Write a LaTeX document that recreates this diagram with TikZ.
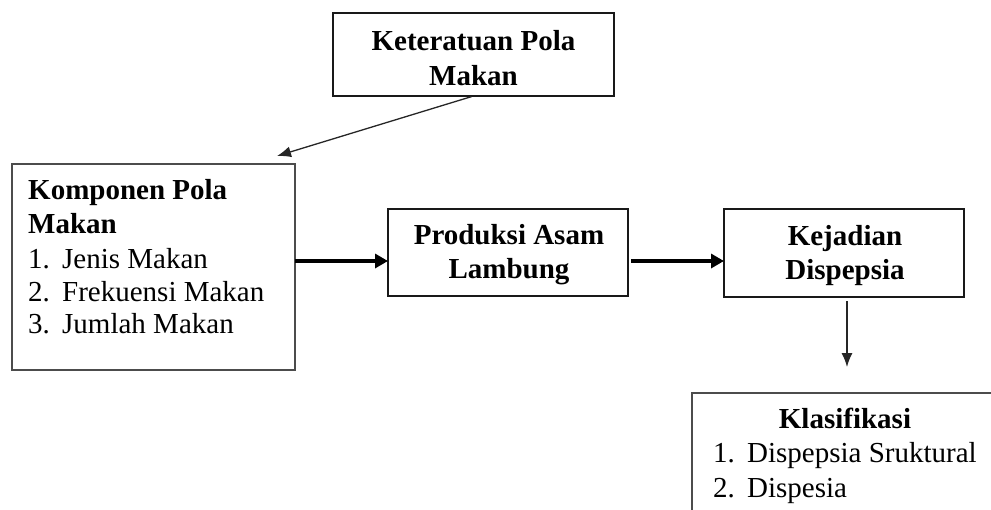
\documentclass[tikz,border=0pt]{standalone}
\usepackage{fontspec}
\setmainfont{Liberation Serif}
\usetikzlibrary{arrows.meta,calc}
\tikzset{
  boxthick/.style={draw=black!90, line width=2.2pt, rectangle, inner sep=0pt, outer sep=0pt},
  boxthin/.style={draw=black!70, line width=1.4pt, rectangle, inner sep=0pt, outer sep=0pt},
  head/.style={font=\fontsize{29}{34}\selectfont\bfseries, inner sep=0pt, anchor=base},
  item/.style={font=\fontsize{29}{34}\selectfont, inner sep=0pt, anchor=base west},
  thinarrow/.style={draw=black!85, line width=1.3pt, -{Latex[length=14pt,width=11pt]}},
  thickarrow/.style={draw=black, line width=3.6pt, -{Triangle[length=13pt,width=14pt]}},
}
\newcommand{\numitem}[2]{\makebox[34pt][l]{#1}#2}
\begin{document}
\begin{tikzpicture}[x=1pt,y=-1pt]
\useasboundingbox (0,0) rectangle (991,509);
\clip (0,0) rectangle (991,509);
% boxes
\node[boxthick, minimum width=281pt, minimum height=83pt] (ket) at (473.5,54.5) {};
\node[boxthin, minimum width=283pt, minimum height=206pt] (komp) at (153.5,267) {};
\node[boxthick, minimum width=240pt, minimum height=87pt] (prod) at (508,252.5) {};
\node[boxthick, minimum width=240pt, minimum height=88pt] (kej) at (844,253) {};
\node[boxthin, minimum width=310pt, minimum height=140pt] (klas) at (847,463) {};
% texts
\node[head] (ket1) at (473.5,50) {Keteratuan Pola};
\node[head] (ket2) at (473.5,85) {Makan};
\node[head, anchor=base west] (komp1) at (28,199) {Komponen Pola};
\node[head, anchor=base west] (komp2) at (28,233) {Makan};
\node[item] (komp3) at (28,268) {\numitem{1.}{Jenis Makan}};
\node[item] (komp4) at (28,301) {\numitem{2.}{Frekuensi Makan}};
\node[item] (komp5) at (28,333) {\numitem{3.}{Jumlah Makan}};
\node[head] (prod1) at (509,244) {Produksi Asam};
\node[head] (prod2) at (509,278) {Lambung};
\node[head] (kej1) at (845,245) {Kejadian};
\node[head] (kej2) at (845,279) {Dispepsia};
\node[head] (klas1) at (845,428) {Klasifikasi};
\node[item] (klas2) at (713,462) {\numitem{1.}{Dispepsia Sruktural}};
\node[item] (klas3) at (713,497) {\numitem{2.}{Dispesia}};
% connectors
\coordinate (kin) at (277,156);
\coordinate (klin) at (847,367);
\draw[thinarrow, shorten <=2pt] (ket.south) -- (kin);
\draw[thickarrow] (komp.east |- 0,261) -- (prod.west |- 0,261);
\draw[thickarrow, shorten <=3pt] (prod.east |- 0,261) -- (kej.west |- 0,261);
\draw[thinarrow, shorten <=4pt] (kej.south -| klin) -- (klin);
\end{tikzpicture}
\end{document}
